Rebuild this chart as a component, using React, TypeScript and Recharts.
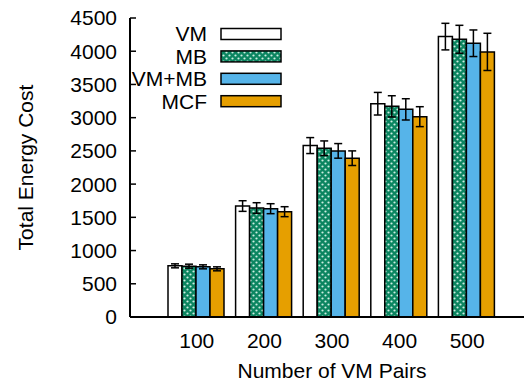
import { Bar, BarChart, ErrorBar, Legend, XAxis, YAxis } from "recharts";

const pairs = ["100", "200", "300", "400", "500"];
const vm = [770, 1670, 2580, 3210, 4220];
const mb = [765, 1640, 2540, 3170, 4180];
const vmMb = [755, 1630, 2500, 3125, 4120];
const mcf = [725, 1585, 2390, 3015, 3990];
const vmErr = [30, 80, 120, 170, 200];
const mbErr = [30, 80, 110, 160, 210];
const vmMbErr = [30, 75, 110, 160, 200];
const mcfErr = [30, 75, 110, 150, 280];
const yTicks = [0, 500, 1000, 1500, 2000, 2500, 3000, 3500, 4000, 4500];

const series = [
  { key: "vm", name: "VM", fill: "#ffffff" },
  { key: "mb", name: "MB", fill: "url(#mbDots)" },
  { key: "vmMb", name: "VM+MB", fill: "#56B4E9" },
  { key: "mcf", name: "MCF", fill: "#E69F00" },
];

const data = pairs.map((p, i) => ({
  pair: p,
  vm: vm[i],
  mb: mb[i],
  vmMb: vmMb[i],
  mcf: mcf[i],
  vmErr: vmErr[i],
  mbErr: mbErr[i],
  vmMbErr: vmMbErr[i],
  mcfErr: mcfErr[i],
}));

const FONT = "'Liberation Sans', Arial, sans-serif";

// y tick: label outside, short tick mark pointing into the plot (gnuplot style)
function YTick(props: any) {
  const { x, y, payload } = props;
  return (
    <g>
      <text x={x} y={y} dy="0.355em" textAnchor="end" fontSize={21} fill="#000" fontFamily={FONT}>
        {payload.value}
      </text>
      <line x1={x + 13} x2={x + 19} y1={y} y2={y} stroke="#000" strokeWidth={1.5} />
    </g>
  );
}

function KeyBox() {
  return (
    <svg width={300} height={120} style={{ display: "block" }}>
      {series.map((s, i) => {
        const cy = 34 + i * 22.4;
        return (
          <g key={s.key}>
            <text x={207} y={cy} dy="0.355em" textAnchor="end" fontSize={21} fill="#000" fontFamily={FONT}>
              {s.name}
            </text>
            <rect x={221} y={cy - 5.5} width={60} height={11} fill={s.fill} stroke="#000" strokeWidth={1.5} />
          </g>
        );
      })}
    </svg>
  );
}

export default function App() {
  return (
    <div style={{ position: "absolute", left: 0, top: 0, width: 524, height: 382, overflow: "hidden", background: "#fff" }}>
      <BarChart
        width={540}
        height={382}
        data={data}
        margin={{ top: 18, right: 6, bottom: 0, left: 0 }}
        barCategoryGap={5}
        barGap={0}
      >
        <defs>
          <pattern id="mbDots" width={6} height={6} patternUnits="userSpaceOnUse">
            <rect width={6} height={6} fill="#0b8560" />
            <circle cx={1.5} cy={1.5} r={1.1} fill="#cdeee2" />
            <circle cx={4.5} cy={4.5} r={1.1} fill="#cdeee2" />
          </pattern>
        </defs>
        <XAxis
          dataKey="pair"
          height={65}
          padding={{ left: 33, right: 33 }}
          tickLine={false}
          tickSize={0}
          tickMargin={16}
          axisLine={{ stroke: "#000", strokeWidth: 2 }}
          tick={{ fontSize: 21, fill: "#000", fontFamily: FONT }}
          label={{ value: "Number of VM Pairs", position: "insideBottom", offset: 4, fontSize: 21, fill: "#000", fontFamily: FONT }}
        />
        <XAxis
          xAxisId="top"
          dataKey="pair"
          orientation="top"
          height={0}
          padding={{ left: 33, right: 33 }}
          mirror
          tick={false}
          tickSize={5}
          tickLine={{ stroke: "#000", strokeWidth: 1.5 }}
          axisLine={{ stroke: "#000", strokeWidth: 2 }}
        />
        <YAxis
          width={130}
          domain={[0, 4500]}
          ticks={yTicks}
          interval={0}
          tickLine={false}
          tickSize={5}
          tickMargin={8}
          axisLine={{ stroke: "#000", strokeWidth: 2 }}
          tick={<YTick />}
          label={{ value: "Total Energy Cost", angle: -90, position: "center", dx: -39, fontSize: 21, fill: "#000", fontFamily: FONT }}
        />
        <Legend
          layout="vertical"
          align="center"
          verticalAlign="middle"
          content={() => <KeyBox />}
          wrapperStyle={{ position: "absolute", left: 0, top: 0, width: 300, height: 120 }}
        />
        {series.map((s) => (
          <Bar key={s.key} dataKey={s.key} name={s.name} fill={s.fill} stroke="#000" strokeWidth={1.5} isAnimationActive={false}>
            <ErrorBar dataKey={s.key + "Err"} width={4} stroke="#000" strokeWidth={1.5} isAnimationActive={false} />
          </Bar>
        ))}
      </BarChart>
    </div>
  );
}
